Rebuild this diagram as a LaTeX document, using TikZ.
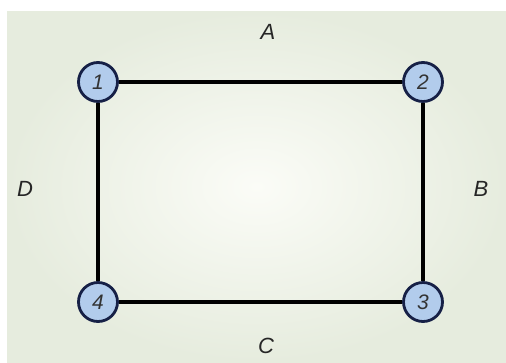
\documentclass[tikz,border=0pt]{standalone}
\usepackage{fontspec}
\setmainfont{Liberation Sans}
\usetikzlibrary{shadings}
\definecolor{bgout}{RGB}{230,236,222}
\definecolor{bgin}{RGB}{251,252,247}
\definecolor{nodefill}{RGB}{178,204,236}
\definecolor{nodeline}{RGB}{22,32,70}
\tikzset{
  vertex/.style={circle, draw=nodeline, line width=2.8pt, fill=nodefill, minimum size=39pt, inner sep=0pt, font=\fontsize{21}{24}\selectfont\itshape, text=black!80},
  edge/.style={line width=4.2pt, black},
  side/.style={font=\fontsize{22}{26}\selectfont\itshape, text=black!85}
}
\begin{document}
\begin{tikzpicture}[x=1pt,y=-1pt]
\useasboundingbox (0,0) rectangle (506,362);
\fill[white] (0,0) rectangle (506,362);
\shade[inner color=bgin, outer color=bgout] (7,11) rectangle (506,362);
\node[vertex] (n1) at (98,82) {1};
\node[vertex] (n2) at (423,82) {2};
\node[vertex] (n3) at (423,302) {3};
\node[vertex] (n4) at (98,302) {4};
\draw[edge] (n1) -- (n2);
\draw[edge] (n2) -- (n3);
\draw[edge] (n3) -- (n4);
\draw[edge] (n4) -- (n1);
\node[side] (la) at (268,32) {A};
\node[side] (lb) at (481,189) {B};
\node[side] (lc) at (266,346) {C};
\node[side] (ld) at (25,189) {D};
\end{tikzpicture}
\end{document}
